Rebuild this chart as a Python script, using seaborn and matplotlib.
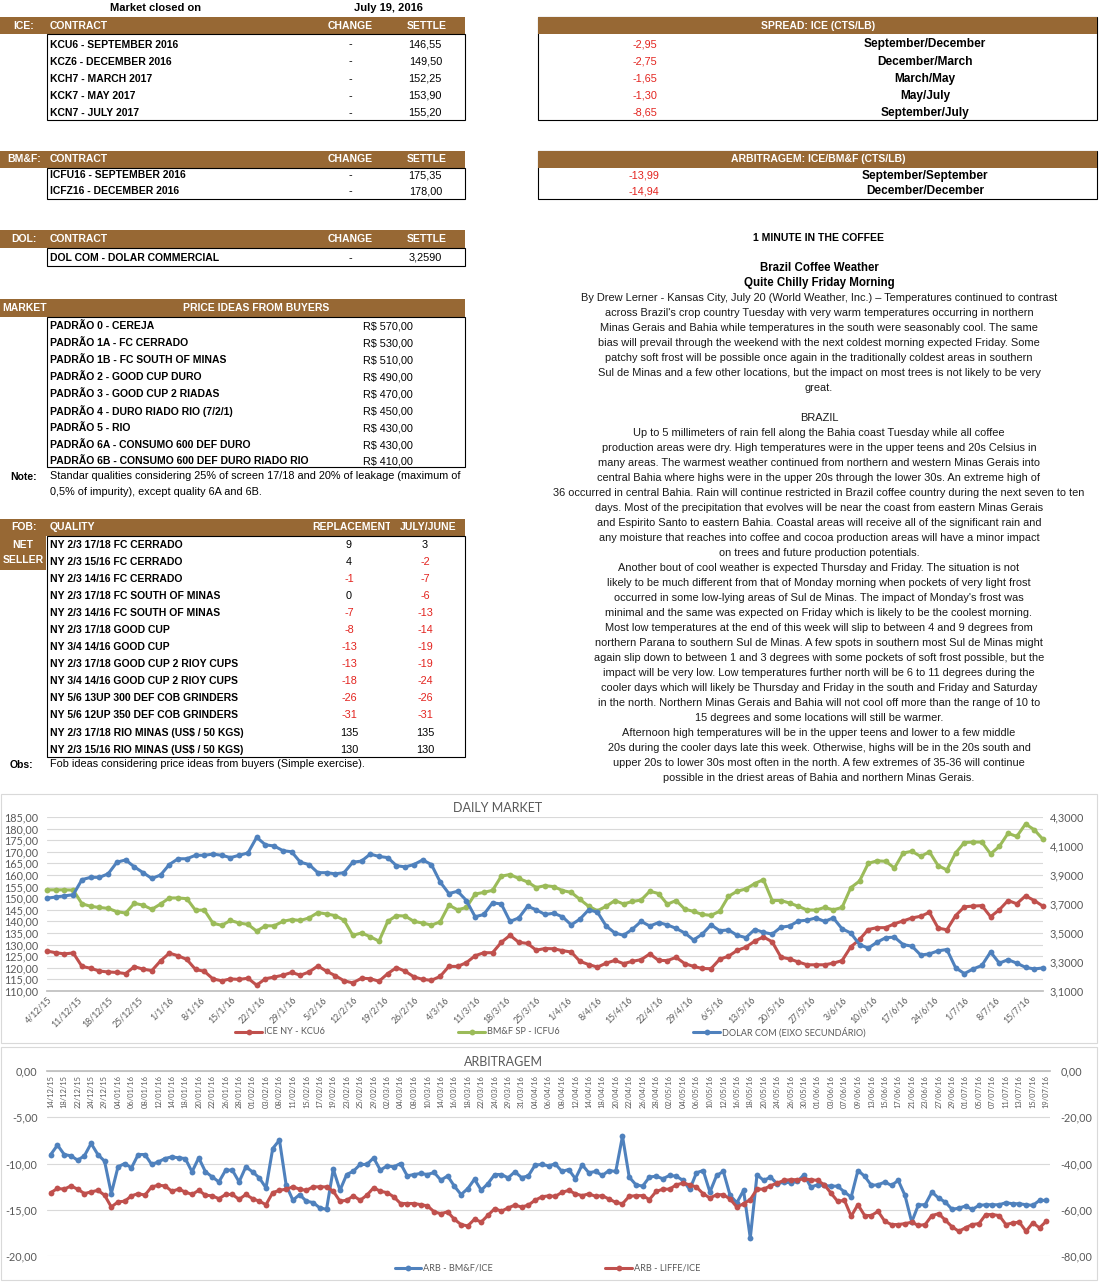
import numpy as np
import pandas as pd
import matplotlib
matplotlib.use("Agg")
import matplotlib.pyplot as plt
from matplotlib.patches import Rectangle
from matplotlib.lines import Line2D
from matplotlib.ticker import FuncFormatter
from matplotlib.transforms import Bbox, TransformedBbox
import seaborn as sns

# ---------------- data ----------------
market_date = "July 19, 2016"

ice_contracts = ["KCU6 - SEPTEMBER 2016", "KCZ6 - DECEMBER 2016", "KCH7 - MARCH 2017",
                 "KCK7 - MAY 2017", "KCN7 - JULY 2017"]
ice_settle = ["146,55", "149,50", "152,25", "153,90", "155,20"]

spread_values = ["-2,95", "-2,75", "-1,65", "-1,30", "-8,65"]
spread_labels = ["September/December", "December/March", "March/May", "May/July", "September/July"]

bmf_contracts = ["ICFU16 - SEPTEMBER 2016", "ICFZ16 - DECEMBER 2016"]
bmf_settle = ["175,35", "178,00"]

arb_values = ["-13,99", "-14,94"]
arb_labels = ["September/September", "December/December"]

dol_contracts = ["DOL COM - DOLAR COMMERCIAL"]
dol_settle = ["3,2590"]

price_qualities = ["PADRÃO 0 - CEREJA", "PADRÃO 1A - FC CERRADO", "PADRÃO 1B - FC SOUTH OF MINAS",
                   "PADRÃO 2 - GOOD CUP DURO", "PADRÃO 3 - GOOD CUP 2 RIADAS",
                   "PADRÃO 4 - DURO RIADO RIO (7/2/1)", "PADRÃO 5 - RIO",
                   "PADRÃO 6A - CONSUMO 600 DEF DURO", "PADRÃO 6B - CONSUMO 600 DEF DURO RIADO RIO"]
price_values = ["R$ 570,00", "R$ 530,00", "R$ 510,00", "R$ 490,00", "R$ 470,00",
                "R$ 450,00", "R$ 430,00", "R$ 430,00", "R$ 410,00"]

fob_qualities = ["NY 2/3 17/18 FC CERRADO", "NY 2/3 15/16 FC CERRADO", "NY 2/3 14/16 FC CERRADO",
                 "NY 2/3 17/18 FC SOUTH OF MINAS", "NY 2/3 14/16 FC SOUTH OF MINAS",
                 "NY 2/3 17/18 GOOD CUP", "NY 3/4 14/16 GOOD CUP", "NY 2/3 17/18 GOOD CUP 2 RIOY CUPS",
                 "NY 3/4 14/16 GOOD CUP 2 RIOY CUPS", "NY 5/6 13UP 300 DEF COB GRINDERS",
                 "NY 5/6 12UP 350 DEF COB GRINDERS", "NY 2/3 17/18 RIO MINAS (US$ / 50 KGS)",
                 "NY 2/3 15/16 RIO MINAS (US$ / 50 KGS)"]
fob_replacement = [9, 4, -1, 0, -7, -8, -13, -13, -18, -26, -31, 135, 130]
fob_july_june = [3, -2, -7, -6, -13, -14, -19, -19, -24, -26, -31, 135, 130]

news_lines = [
    "By Drew Lerner - Kansas City, July 20 (World Weather, Inc.) – Temperatures continued to contrast",
    "across Brazil's crop country Tuesday with very warm temperatures occurring in northern",
    "Minas Gerais and Bahia while temperatures in the south were seasonably cool. The same",
    "bias will prevail through the weekend with the next coldest morning expected Friday. Some",
    "patchy soft frost will be possible once again in the traditionally coldest areas in southern",
    "Sul de Minas and a few other locations, but the impact on most trees is not likely to be very",
    "great.",
    "",
    "BRAZIL",
    "Up to 5 millimeters of rain fell along the Bahia coast Tuesday while all coffee",
    "production areas were dry. High temperatures were in the upper teens and 20s Celsius in",
    "many areas. The warmest weather continued from northern and western Minas Gerais into",
    "central Bahia where highs were in the upper 20s through the lower 30s. An extreme high of",
    "36 occurred in central Bahia. Rain will continue restricted in Brazil coffee country during the next seven to ten",
    "days. Most of the precipitation that evolves will be near the coast from eastern Minas Gerais",
    "and Espirito Santo to eastern Bahia. Coastal areas will receive all of the significant rain and",
    "any moisture that reaches into coffee and cocoa production areas will have a minor impact",
    "on trees and future production potentials.",
    "Another bout of cool weather is expected Thursday and Friday. The situation is not",
    "likely to be much different from that of Monday morning when pockets of very light frost",
    "occurred in some low-lying areas of Sul de Minas. The impact of Monday's frost was",
    "minimal and the same was expected on Friday which is likely to be the coolest morning.",
    "Most low temperatures at the end of this week will slip to between 4 and 9 degrees from",
    "northern Parana to southern Sul de Minas. A few spots in southern most Sul de Minas might",
    "again slip down to between 1 and 3 degrees with some pockets of soft frost possible, but the",
    "impact will be very low. Low temperatures further north will be 6 to 11 degrees during the",
    "cooler days which will likely be Thursday and Friday in the south and Friday and Saturday",
    "in the north. Northern Minas Gerais and Bahia will not cool off more than the range of 10 to",
    "15 degrees and some locations will still be warmer.",
    "Afternoon high temperatures will be in the upper teens and lower to a few middle",
    "20s during the cooler days late this week. Otherwise, highs will be in the 20s south and",
    "upper 20s to lower 30s most often in the north. A few extremes of 35-36 will continue",
    "possible in the driest areas of Bahia and northern Minas Gerais.",
]

# daily market, one reading every second day from 4/12/15 to 19/7/16
daily_dates = pd.date_range("2015-12-04", "2016-07-19", freq="2D")
ice_kcu6 = [127.2, 126.5, 126.0, 126.4, 120.6, 119.8, 118.6, 118.2, 118.0, 117.5,
            120.5, 119.4, 118.8, 123.0, 126.3, 125.2, 123.6, 119.3, 118.5, 115.2,
            114.4, 115.2, 115.0, 115.5, 112.5, 115.3, 116.0, 116.8, 118.0, 116.8,
            118.2, 120.8, 118.5, 116.6, 114.4, 113.5, 115.5, 115.3, 114.2, 117.5,
            120.1, 118.5, 116.1, 115.0, 114.6, 116.3, 120.6, 120.6, 122.2, 125.2,
            126.5, 126.5, 131.0, 134.0, 131.0, 130.5, 127.6, 128.3,
            128.2, 127.4, 126.8, 122.8, 121.4, 120.3, 122.0, 123.2, 121.8, 122.8,
            123.5, 126.0, 123.2, 123.1, 124.5, 121.8, 120.6, 119.7, 119.6, 123.7,
            125.0, 127.5, 128.9, 131.5, 133.3, 131.2, 124.6, 123.8, 122.5, 121.3,
            121.3, 121.3, 122.0, 123.1, 129.0, 132.2, 136.5, 137.3, 137.3, 139.0,
            140.2, 141.5, 142.2, 143.9, 137.1, 136.4, 142.5, 146.3, 146.6, 146.8,
            142.0, 145.0, 149.0, 147.6, 151.0, 149.0, 146.55]
bmf_icfu6 = [153.6, 153.6, 153.6, 153.5, 147.6, 146.5, 146.0, 145.6, 144.2, 143.6,
             147.8, 147.0, 145.2, 147.5, 150.1, 150.1, 149.8, 144.8, 144.9, 139.2,
             138.3, 140.4, 139.3, 138.7, 135.8, 138.1, 138.1, 140.0, 140.8, 140.4,
             141.5, 143.8, 143.2, 142.5, 140.5, 134.0, 135.0, 133.4, 131.5, 140.0,
             142.5, 142.3, 140.0, 139.3, 138.4, 139.8, 147.0, 145.0, 146.0, 151.8,
             152.5, 153.4, 159.5, 160.2, 158.5, 157.0, 154.6, 155.4,
             155.0, 153.3, 152.5, 149.5, 146.5, 144.6, 146.5, 149.0, 147.5, 148.6,
             149.2, 153.0, 152.0, 147.4, 149.0, 145.3, 144.3, 143.0, 142.6, 144.4,
             150.8, 153.0, 154.0, 156.3, 158.0, 149.0, 149.0, 147.9, 146.5, 144.9,
             144.9, 146.0, 145.0, 146.0, 154.5, 157.4, 165.0, 166.1, 165.9, 163.0,
             169.5, 170.2, 168.0, 170.0, 164.0, 162.2, 169.5, 174.0, 174.2, 174.2,
             169.1, 172.3, 178.0, 176.6, 182.0, 179.5, 175.35]
dolar_com = [3.740, 3.748, 3.756, 3.764, 3.868, 3.884, 3.884, 3.908, 3.988, 4.004,
             3.956, 3.916, 3.876, 3.900, 3.972, 4.012, 4.012, 4.036, 4.036, 4.044,
             4.036, 4.020, 4.036, 4.052, 4.160, 4.108, 4.100, 4.068, 4.060, 3.988,
             3.972, 3.916, 3.916, 3.908, 3.916, 3.988, 3.996, 4.044, 4.028, 4.020,
             3.964, 3.956, 3.972, 4.004, 3.972, 3.852, 3.772, 3.788, 3.724, 3.612,
             3.628, 3.708, 3.700, 3.580, 3.604, 3.684, 3.660, 3.628,
             3.636, 3.612, 3.556, 3.596, 3.660, 3.644, 3.548, 3.500, 3.484, 3.526,
             3.580, 3.548, 3.572, 3.556, 3.532, 3.500, 3.452, 3.492, 3.556, 3.516,
             3.521, 3.484, 3.468, 3.524, 3.505, 3.492, 3.540, 3.548, 3.583, 3.588,
             3.604, 3.580, 3.604, 3.529, 3.500, 3.420, 3.396, 3.436, 3.468, 3.471,
             3.420, 3.409, 3.348, 3.356, 3.377, 3.386, 3.260, 3.220, 3.252, 3.276,
             3.369, 3.292, 3.316, 3.292, 3.263, 3.252, 3.259]

# arbitragem: category axis, every other date is labelled
arb_dates = ["14/12/15", "18/12/15", "22/12/15", "24/12/15", "29/12/15",
             "04/01/16", "06/01/16", "08/01/16", "12/01/16", "14/01/16", "18/01/16",
             "20/01/16", "22/01/16", "26/01/16", "28/01/16",
             "01/02/16", "03/02/16", "08/02/16", "11/02/16", "15/02/16", "17/02/16",
             "19/02/16", "23/02/16", "25/02/16", "29/02/16",
             "02/03/16", "04/03/16", "08/03/16", "10/03/16", "14/03/16", "16/03/16",
             "18/03/16", "22/03/16", "24/03/16", "29/03/16", "31/03/16",
             "04/04/16", "06/04/16", "08/04/16", "12/04/16", "14/04/16", "18/04/16",
             "20/04/16", "22/04/16", "26/04/16", "28/04/16",
             "02/05/16", "04/05/16", "06/05/16", "10/05/16", "12/05/16", "16/05/16",
             "18/05/16", "20/05/16", "24/05/16", "26/05/16", "30/05/16",
             "01/06/16", "03/06/16", "07/06/16", "09/06/16", "13/06/16", "15/06/16",
             "17/06/16", "21/06/16", "23/06/16", "27/06/16", "29/06/16",
             "01/07/16", "05/07/16", "07/07/16", "11/07/16", "13/07/16", "15/07/16", "19/07/16"]
arb_bmf_ice = [-9.03, -8.01, -9.03, -9.17, -9.64, -9.17, -7.83, -9.03, -9.75, -13.25,
               -10.36, -10.0, -10.47, -9.03, -9.03, -10.1, -9.82, -9.46, -9.28, -9.39,
               -9.46, -10.9, -9.39, -10.9, -11.44, -11.99, -10.72, -10.72, -11.99, -10.36,
               -10.9, -11.55, -12.64, -8.38, -7.47, -12.35, -13.97, -13.36, -14.08, -14.22,
               -14.8, -14.95, -10.61, -12.89, -11.19, -10.83, -10.1, -10.1, -9.39, -10.72,
               -10.25, -10.36, -10.0, -11.34, -11.19, -11.08, -11.19, -10.97, -11.8, -11.34,
               -12.45, -13.36, -12.71, -11.7, -12.89, -12.17, -11.19, -11.19, -11.55, -10.9,
               -11.52, -11.34, -10.18, -10.1, -10.25,
               -10.04, -10.86, -10.65, -11.65, -10.14, -11.0, -10.86, -11.29, -10.76, -10.86,
               -7.05, -11.47, -12.3, -12.45, -11.47, -11.37, -11.65, -11.29, -11.37, -11.83,
               -12.81, -11.0, -10.76, -13.09, -11.29, -10.86, -13.45, -14.24, -12.91, -18.06,
               -11.22, -11.83, -11.47, -12.19, -12.01, -12.09, -11.94, -11.22, -12.55, -12.3,
               -12.37, -12.45, -12.45, -13.09, -13.63, -10.76, -11.37, -12.37, -12.3, -12.01,
               -12.37, -11.83, -13.45, -16.33, -14.46, -14.46, -13.09, -13.74, -14.17, -14.96,
               -14.82, -14.6, -14.96, -14.53, -14.46, -14.46, -14.46, -14.24, -14.35, -14.35,
               -14.46, -14.53, -13.99, -13.99]
arb_liffe_ice = [-52.6, -50.8, -51.1, -49.7, -51.1, -53.0, -52.3, -51.6, -53.7, -58.8,
                 -56.6, -56.3, -54.0, -53.0, -53.7, -50.1, -49.4, -49.7, -52.0, -51.1,
                 -52.3, -53.4, -51.6, -53.7, -54.0, -55.2, -53.4, -53.4, -55.5, -53.4,
                 -55.2, -56.3, -57.8, -52.6, -51.6, -51.1, -50.1, -51.1, -51.6, -50.1,
                 -50.1, -50.1, -52.0, -56.3, -55.9, -54.0, -55.9, -53.7, -50.5, -52.0,
                 -52.6, -54.4, -57.3, -57.3, -57.3, -57.8, -58.3, -60.9, -61.7, -60.9,
                 -64.1, -66.4, -67.0, -64.1, -65.3, -62.4, -59.5, -60.6, -59.2, -58.0,
                 -58.8, -58.0, -55.9, -54.4, -54.0,
                 -54.2, -52.5, -51.6, -53.1, -53.9, -53.1, -54.2, -53.9, -55.4, -56.8,
                 -57.4, -54.2, -53.9, -53.9, -55.6, -52.1, -51.1, -51.1, -49.2, -48.5,
                 -49.2, -50.2, -53.1, -54.9, -53.5, -53.5, -55.4, -58.8, -57.4, -55.6,
                 -51.1, -51.1, -49.6, -48.5, -47.3, -47.0, -47.0, -46.7, -47.0, -47.3,
                 -49.2, -52.8, -56.4, -55.9, -62.8, -57.8, -62.5, -62.5, -60.7, -65.0,
                 -66.4, -66.4, -66.0, -65.4, -66.8, -66.4, -62.5, -61.7, -64.5, -67.4,
                 -69.3, -67.8, -66.4, -66.0, -62.1, -62.1, -62.5, -66.4, -65.7, -65.4,
                 -69.3, -65.7, -67.8, -65.0]

# ---------------- style ----------------
sns.set_theme(style="white")
plt.rcParams["font.family"] = ["Liberation Sans", "DejaVu Sans"]

W, H = 1099, 1282
BROWN = "#976834"
NEG = "#E3231E"
RED, GREEN, BLUE = "#C0504D", "#9BBB59", "#4F81BD"
GRAY = "#595959"
CHART_FONT = ["Lato", "DejaVu Sans"]
BODY = 7.8   # plain text size

fig = plt.figure(figsize=(W / 100, H / 100), dpi=100)


def fy(y):
    return 1 - y / H


def txt(x, y, s, ha="left", size=7.5, bold=False, color="black", **kw):
    return fig.text(x / W, fy(y), s, ha=ha, va="center", fontsize=size,
                    fontweight="bold" if bold else "normal", color=color, **kw)


def rect(x0, y0, x1, y1, fc="none", ec="none", lw=1.0):
    fig.add_artist(Rectangle((x0 / W, fy(y1)), (x1 - x0) / W, (y1 - y0) / H,
                             transform=fig.transFigure, facecolor=fc, edgecolor=ec, linewidth=lw))


def header(y0, y1, x0=0, x1=465):
    rect(x0, y0, x1, y1, fc=BROWN)


def neg_color(v):
    return NEG if str(v).startswith("-") else "black"


# ---------------- top tables ----------------
txt(156, 8, "Market closed on", ha="center", bold=True, size=8.0)
txt(388, 8, market_date, ha="center", bold=True, size=8.0)

# ICE
header(17, 34)
txt(24, 26, "ICE:", ha="center", bold=True, color="white")
txt(50, 26, "CONTRACT", bold=True, color="white")
txt(350, 26, "CHANGE", ha="center", bold=True, color="white")
txt(427, 26, "SETTLE", ha="center", bold=True, color="white")
rect(47, 34, 465, 120, ec="black", lw=0.8)
for i, (c, s) in enumerate(zip(ice_contracts, ice_settle)):
    y = 44.5 + 17.1 * i
    txt(50, y, c, bold=True)
    txt(350, y, "-", ha="center", size=BODY)
    txt(442, y, s, ha="right", size=BODY)

# SPREAD
rect(538, 17, 1097, 120, ec="black", lw=0.8)
rect(538, 17, 1097, 34, fc=BROWN)
txt(818, 26, "SPREAD: ICE (CTS/LB)", ha="center", bold=True, color="white")
for i, (v, l) in enumerate(zip(spread_values, spread_labels)):
    y = 44.5 + 17.1 * i
    txt(657, y, v, ha="right", color=NEG, size=BODY)
    txt(925, y, l, ha="center", bold=True, size=8.6)

# BM&F
header(151, 168)
txt(24, 159, "BM&F:", ha="center", bold=True, color="white")
txt(50, 159, "CONTRACT", bold=True, color="white")
txt(350, 159, "CHANGE", ha="center", bold=True, color="white")
txt(427, 159, "SETTLE", ha="center", bold=True, color="white")
rect(47, 168, 465, 199, ec="black", lw=0.8)
for i, (c, s) in enumerate(zip(bmf_contracts, bmf_settle)):
    y = 175.5 + 16 * i
    txt(50, y, c, bold=True)
    txt(350, y, "-", ha="center", size=BODY)
    txt(442, y, s, ha="right", size=BODY)

# ARBITRAGEM table
rect(538, 151, 1097, 199, ec="black", lw=0.8)
rect(538, 151, 1097, 168, fc=BROWN)
txt(818, 159, "ARBITRAGEM: ICE/BM&F (CTS/LB)", ha="center", bold=True, color="white")
for i, (v, l) in enumerate(zip(arb_values, arb_labels)):
    y = 175.5 + 16 * i
    txt(659, y, v, ha="right", color=NEG, size=BODY)
    txt(925, y, l, ha="center", bold=True, size=8.6)

# DOL
header(230, 248)
txt(24, 239, "DOL:", ha="center", bold=True, color="white")
txt(50, 239, "CONTRACT", bold=True, color="white")
txt(350, 239, "CHANGE", ha="center", bold=True, color="white")
txt(427, 239, "SETTLE", ha="center", bold=True, color="white")
rect(47, 248, 465, 266, ec="black", lw=0.8)
txt(50, 258, dol_contracts[0], bold=True)
txt(350, 258, "-", ha="center", size=BODY)
txt(442, 258, dol_settle[0], ha="right", size=BODY)

# PRICE IDEAS
header(299, 317)
txt(2, 308, "MARKET", bold=True, color="white")
txt(256, 308, "PRICE IDEAS FROM BUYERS", ha="center", bold=True, color="white")
rect(47, 317, 465, 467, ec="black", lw=0.8)
for i, (q, v) in enumerate(zip(price_qualities, price_values)):
    y = 326.3 + 17.0 * i if i < 8 else 461
    txt(50, y, q, bold=True)
    txt(363, y, v, size=BODY)
txt(10, 477, "Note:", bold=True)
txt(50, 476, "Standar qualities considering 25% of screen 17/18 and 20% of leakage (maximum of",
    size=BODY)
txt(50, 492, "0,5% of impurity), except quality 6A and 6B.", size=BODY)

# FOB
header(519, 536)
rect(0, 536, 46, 570, fc=BROWN)
txt(24, 527, "FOB:", ha="center", bold=True, color="white")
txt(23, 545, "NET", ha="center", bold=True, color="white")
txt(23, 560, "SELLER", ha="center", bold=True, color="white")
txt(50, 527, "QUALITY", bold=True, color="white")
t = txt(352, 527, "REPLACEMENT", ha="center", bold=True, color="white")
t.set_clip_box(TransformedBbox(Bbox([[0, 0], [390 / W, 1]]), fig.transFigure))
t.set_clip_on(True)
txt(428, 527, "JULY/JUNE", ha="center", bold=True, color="white")
rect(47, 536, 465, 757, ec="black", lw=0.8)
for i, (q, r, j) in enumerate(zip(fob_qualities, fob_replacement, fob_july_june)):
    y = 545 + 17.05 * i
    txt(50, y, q, bold=True)
    txt(349, y, str(r), ha="center", color=neg_color(r), size=BODY)
    txt(425, y, str(j), ha="center", color=neg_color(j), size=BODY)
txt(10, 765, "Obs:", bold=True)
txt(50, 764, "Fob ideas considering price ideas from buyers (Simple exercise).", size=BODY)

# ---------------- news text ----------------
txt(819, 238, "1 MINUTE IN THE COFFEE", ha="center", bold=True)
txt(819, 268, "Brazil Coffee Weather", ha="center", bold=True, size=8.3)
txt(819, 283, "Quite Chilly Friday Morning", ha="center", bold=True, size=8.3)
for i, line in enumerate(news_lines):
    if line:
        txt(819, 298 + 15 * i, line, ha="center", size=7.9, color="#1a1a1a")

# ---------------- DAILY MARKET chart ----------------
rect(1, 794, 1097, 1043, ec="#D9D9D9", lw=0.8)
fig.text(498 / W, fy(808), "DAILY MARKET", ha="center", va="center", fontsize=9,
         color=GRAY, family=CHART_FONT)

daily = pd.DataFrame({"date": daily_dates, "ice": ice_kcu6, "bmf": bmf_icfu6, "dol": dolar_com})

ax1 = fig.add_axes([47 / W, fy(991), (1043 - 47) / W, (991 - 817) / H])
line_kw = dict(marker="o", markersize=4.2, markeredgewidth=0, linewidth=2.2, clip_on=False)
sns.lineplot(data=daily, x="date", y="ice", ax=ax1, color=RED, **line_kw)
sns.lineplot(data=daily, x="date", y="bmf", ax=ax1, color=GREEN, **line_kw)
ax2 = ax1.twinx()
sns.lineplot(data=daily, x="date", y="dol", ax=ax2, color=BLUE, **line_kw)

ax1.set_xlim(pd.Timestamp("2015-12-04"), pd.Timestamp("2016-07-19"))
ax1.set_ylim(110, 185)
ax1.set_yticks(np.arange(110, 186, 5))
ax2.set_ylim(3.1, 4.3)
ax2.set_yticks(np.arange(3.1, 4.31, 0.2))
ax1.yaxis.set_major_formatter(FuncFormatter(lambda v, p: f"{v:.2f}".replace(".", ",")))
ax2.yaxis.set_major_formatter(FuncFormatter(lambda v, p: f"{v:.4f}".replace(".", ",")))
week_ticks = pd.date_range("2015-12-04", "2016-07-19", freq="7D")
ax1.set_xticks(week_ticks)
ax1.set_xticklabels([f"{d.day}/{d.month}/{d.year % 100}" for d in week_ticks],
                    rotation=45, ha="right", rotation_mode="anchor")
ax1.grid(axis="y", color="#D9D9D9", linewidth=0.8)
ax1.set_axisbelow(True)
for a in (ax1, ax2):
    a.set_xlabel("")
    a.set_ylabel("")
    for s in a.spines.values():
        s.set_visible(False)
    a.tick_params(length=0, colors=GRAY, labelsize=7.8)
    for lbl in a.get_yticklabels():
        lbl.set_family(CHART_FONT)
ax1.spines["bottom"].set_visible(True)
ax1.spines["bottom"].set_color("#BFBFBF")
ax1.tick_params(axis="y", pad=6)
ax2.tick_params(axis="y", pad=5)
ax1.tick_params(axis="x", labelsize=6.3, pad=3)
for lbl in ax1.get_xticklabels():
    lbl.set_family(CHART_FONT)


def legend_item(x0, x1, y, color, label):
    fig.add_artist(Line2D([x0 / W, x1 / W], [fy(y), fy(y)], color=color, lw=2.2,
                          transform=fig.transFigure))
    fig.add_artist(Line2D([(x0 + x1) / 2 / W], [fy(y)], color=color, marker="o", ms=4.2,
                          mew=0, transform=fig.transFigure))
    fig.text((x1 + 2) / W, fy(y), label, ha="left", va="center", fontsize=6.6, color=GRAY,
             family=CHART_FONT)


legend_item(235, 262, 1032, RED, "ICE NY - KCU6")
legend_item(458, 485, 1032, GREEN, "BM&F SP - ICFU6")
legend_item(693, 720, 1032, BLUE, "DOLAR COM (EIXO SECUNDÁRIO)")

# ---------------- ARBITRAGEM chart ----------------
rect(1, 1047, 1097, 1280, ec="#D9D9D9", lw=0.8)
fig.text(503 / W, fy(1062), "ARBITRAGEM", ha="center", va="center", fontsize=9,
         color=GRAY, family=CHART_FONT)

arb = pd.DataFrame({"pos": np.arange(len(arb_bmf_ice)), "bmf": arb_bmf_ice, "liffe": arb_liffe_ice})
ax3 = fig.add_axes([47.4 / W, fy(1256), (1049.6 - 47.4) / W, (1256 - 1071) / H])
sns.lineplot(data=arb, x="pos", y="bmf", ax=ax3, color=BLUE, **line_kw)
ax4 = ax3.twinx()
sns.lineplot(data=arb, x="pos", y="liffe", ax=ax4, color=RED, **line_kw)

# category axis crosses at 0 (top of the plot); set the spine first, it resets the ticks
for a in (ax3, ax4):
    a.set_xlabel("")
    a.set_ylabel("")
    for s in a.spines.values():
        s.set_visible(False)
ax3.spines["bottom"].set_visible(True)
ax3.spines["bottom"].set_position(("data", 0))
ax3.spines["bottom"].set_color("#BFBFBF")

ax3.set_xlim(-0.5, len(arb_bmf_ice) - 0.5)
ax3.set_ylim(-20, 0)
ax3.set_yticks([-20, -15, -10, -5, 0])
ax4.set_ylim(-80, 0)
ax4.set_yticks([-80, -60, -40, -20, 0])
fmt2 = FuncFormatter(lambda v, p: f"{v:.2f}".replace(".", ","))
ax3.yaxis.set_major_formatter(fmt2)
ax4.yaxis.set_major_formatter(fmt2)
ax3.set_xticks(np.arange(0, len(arb_bmf_ice), 2))
ax3.set_xticklabels(arb_dates)
ax3.set_xticks(np.arange(1, len(arb_bmf_ice), 2), minor=True)
ax3.grid(axis="y", color="#D9D9D9", linewidth=0.8)
ax3.set_axisbelow(True)
ax3.tick_params(axis="x", which="both", direction="inout", length=3, color="#BFBFBF",
                colors=GRAY, labelsize=5.4, pad=1.5, labelrotation=90)
for lbl in ax3.get_xticklabels():
    lbl.set_family(CHART_FONT)
    lbl.set_color(GRAY)
for a in (ax3, ax4):
    a.tick_params(axis="y", length=0, colors=GRAY, labelsize=7.8)
    for lbl in a.get_yticklabels():
        lbl.set_family(CHART_FONT)
ax3.tick_params(axis="y", pad=7)
ax4.tick_params(axis="y", pad=8)

legend_item(395, 421, 1268, BLUE, "ARB - BM&F/ICE")
legend_item(605, 632, 1268, RED, "ARB - LIFFE/ICE")

fig.savefig("out.png", dpi=100, facecolor="white")
